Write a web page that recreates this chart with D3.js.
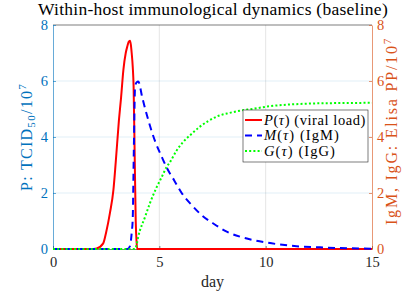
<!DOCTYPE html>
<html>
<head>
<meta charset="utf-8">
<script src="https://cdn.jsdelivr.net/npm/d3@7"></script>
<style>
  body { margin: 0; background: #fff; }
</style>
</head>
<body>
<div id="chart"></div>
<script>
const width = 412, height = 293;
const margin = {top: 25, right: 40, bottom: 44, left: 53};

const xTicks = [0, 5, 10, 15];
const yTicks = [0, 2, 4, 6, 8];

// P(tau), viral load (left axis)
const pDays = [0, 1.8, 2.05, 2.36, 2.5, 2.68, 2.84, 2.95, 3.1, 3.2, 3.31, 3.42, 3.5, 3.56, 3.62, 3.66, 3.70, 3.75, 3.79, 3.84, 3.89, 3.93, 3.96, 5, 10, 15];
const pVals = [0, 0, 0.02, 0.2, 0.6, 1.3, 2.1, 3.1, 4.6, 5.4, 6.4, 7.0, 7.25, 7.4, 7.44, 7.3, 7.0, 6.5, 5.8, 3.4, 1.0, 0.25, 0, 0, 0, 0];

// M(tau), IgM (right axis)
const mDays = [0, 3.5, 3.62, 3.70, 3.75, 3.80, 3.86, 3.93, 4.01, 4.2, 4.56, 4.8, 5.11, 5.35, 5.7, 6.05, 6.52, 6.99, 7.52, 8.17, 8.79, 9.4, 10.04, 11.45, 12.87, 15];
const mVals = [0, 0, 0.1, 0.57, 1.1, 3.5, 5.8, 5.95, 5.98, 5.4, 4.4, 3.85, 3.3, 2.9, 2.45, 2.0, 1.57, 1.21, 0.92, 0.62, 0.44, 0.32, 0.23, 0.1, 0.05, 0.01];

// G(tau), IgG (right axis)
const gDays = [0, 3.6, 3.86, 3.93, 4.01, 4.33, 4.56, 4.87, 5.1, 5.35, 5.5, 5.8, 6.13, 6.5, 6.91, 7.3, 7.7, 8.3, 8.95, 9.26, 10.2, 11.6, 13.18, 15];
const gVals = [0, 0, 0, 0.15, 0.44, 1.15, 1.64, 2.2, 2.55, 2.94, 3.1, 3.5, 3.83, 4.1, 4.37, 4.57, 4.73, 4.86, 4.96, 4.99, 5.1, 5.18, 5.21, 5.22];

const leftColor = "#0072BD";
const rightColor = "#D95319";
const serif = "'Liberation Serif', 'DejaVu Serif', serif";

const svg = d3.select("#chart").append("svg")
    .attr("width", width)
    .attr("height", height);

const x = d3.scaleLinear().domain([0, 15]).range([margin.left, width - margin.right]);
const yL = d3.scaleLinear().domain([0, 8]).range([height - margin.bottom, margin.top]);
const yR = d3.scaleLinear().domain([0, 8]).range([height - margin.bottom, margin.top]);

const x0 = x.range()[0], x1 = x.range()[1];
const y0 = yL.range()[0], y1 = yL.range()[1];

// stretch a text to the width measured on the reference
function fitWidth(sel, target) {
    const node = sel.node();
    const n = node.textContent.length;
    const len = node.getComputedTextLength();
    sel.attr("letter-spacing", (target - len) / n);
}

function addText(parent) {
    return parent.append("text").style("font-family", serif);
}

// grid
svg.append("g").selectAll("line")
    .data(xTicks.slice(1, -1))
    .join("line")
    .attr("x1", d => x(d)).attr("x2", d => x(d))
    .attr("y1", y0).attr("y2", y1)
    .attr("stroke", "#262626").attr("stroke-opacity", 0.12);
svg.append("g").selectAll("line")
    .data(yTicks.slice(1, -1))
    .join("line")
    .attr("x1", x0).attr("x2", x1)
    .attr("y1", d => yL(d)).attr("y2", d => yL(d))
    .attr("stroke", leftColor).attr("stroke-opacity", 0.12);

// axes
function styleAxis(g, color) {
    g.attr("font-family", null);
    g.select(".domain").attr("stroke", color).attr("stroke-width", 0.6);
    g.selectAll(".tick line").attr("stroke", color).attr("stroke-width", 0.6);
    g.selectAll(".tick text").attr("fill", color)
        .style("font-family", serif).style("font-size", "14.5px");
}

const gx = svg.append("g")
    .attr("transform", `translate(0,${y0})`)
    .call(d3.axisBottom(x).tickValues(xTicks).tickSize(-3).tickPadding(8).tickSizeOuter(0));
styleAxis(gx, "#262626");

svg.append("line")
    .attr("x1", x0).attr("x2", x1).attr("y1", y1).attr("y2", y1)
    .attr("stroke", "#262626").attr("stroke-width", 0.6);

const gl = svg.append("g")
    .attr("transform", `translate(${x0},0)`)
    .call(d3.axisLeft(yL).tickValues(yTicks).tickSize(-3).tickPadding(5).tickSizeOuter(0));
styleAxis(gl, leftColor);

const gr = svg.append("g")
    .attr("transform", `translate(${x1},0)`)
    .call(d3.axisRight(yR).tickValues(yTicks).tickSize(-3).tickPadding(5).tickSizeOuter(0));
styleAxis(gr, rightColor);

// curves
const pData = pDays.map((d, i) => [d, pVals[i]]);
const mData = mDays.map((d, i) => [d, mVals[i]]);
const gData = gDays.map((d, i) => [d, gVals[i]]);

const lineL = d3.line().x(d => x(d[0])).y(d => yL(d[1])).curve(d3.curveMonotoneX);
const lineR = d3.line().x(d => x(d[0])).y(d => yR(d[1])).curve(d3.curveMonotoneX);

svg.append("path").datum(pData)
    .attr("d", lineL)
    .attr("fill", "none").attr("stroke", "#ff0000").attr("stroke-width", 2);
svg.append("path").datum(mData)
    .attr("d", lineR)
    .attr("fill", "none").attr("stroke", "#0000ff").attr("stroke-width", 2)
    .attr("stroke-dasharray", "7,5");
svg.append("path").datum(gData)
    .attr("d", lineR)
    .attr("fill", "none").attr("stroke", "#00ff00").attr("stroke-width", 2)
    .attr("stroke-dasharray", "2,2.2");

// title and labels
const title = addText(svg)
    .attr("x", 213).attr("y", 14.5)
    .attr("text-anchor", "middle")
    .attr("font-size", 17.5).attr("fill", "#000")
    .text("Within-host immunological dynamics (baseline)");
fitWidth(title, 350);

addText(svg)
    .attr("x", (x0 + x1) / 2).attr("y", 287)
    .attr("text-anchor", "middle")
    .attr("font-size", 16).attr("fill", "#262626")
    .text("day");

const leftLabel = addText(svg)
    .attr("transform", `translate(32,${(y0 + y1) / 2}) rotate(-90)`)
    .attr("text-anchor", "middle")
    .attr("font-size", 16).attr("fill", leftColor);
leftLabel.append("tspan").text("P: TCID");
leftLabel.append("tspan").attr("font-size", 11).attr("dy", 3).text("50");
leftLabel.append("tspan").attr("dy", -3).text("/10");
leftLabel.append("tspan").attr("font-size", 11).attr("dy", -6).text("7");
fitWidth(leftLabel, 108);

const rightLabel = addText(svg)
    .attr("transform", `translate(397,${(y0 + y1) / 2 - 6}) rotate(-90)`)
    .attr("text-anchor", "middle")
    .attr("font-size", 16).attr("fill", rightColor);
rightLabel.append("tspan").text("IgM, IgG: Elisa PP/10");
rightLabel.append("tspan").attr("font-size", 11).attr("dy", -6).text("7");
fitWidth(rightLabel, 188);

// legend
const legendItems = [
    {sym: "P", name: " (viral load)", color: "#ff0000", dash: null},
    {sym: "M", name: " (IgM)", color: "#0000ff", dash: "7,5"},
    {sym: "G", name: " (IgG)", color: "#00ff00", dash: "2,2.2"}
];
const legendWidths = [102, 76, 72];
const legend = svg.append("g").attr("transform", "translate(243,110)");
legend.append("rect")
    .attr("width", 125).attr("height", 52)
    .attr("fill", "#fff").attr("stroke", "#262626").attr("stroke-width", 0.6);
const rows = legend.selectAll("g.row")
    .data(legendItems)
    .join("g")
    .attr("class", "row")
    .attr("transform", (d, i) => `translate(0,${10 + i * 15.5})`);
rows.append("line")
    .attr("x1", 2).attr("x2", 19)
    .attr("stroke", d => d.color).attr("stroke-width", 2)
    .attr("stroke-dasharray", d => d.dash);
const rowText = addText(rows)
    .attr("x", 21).attr("y", 4.5)
    .attr("font-size", 14.5).attr("fill", "#000");
rowText.append("tspan").attr("font-style", "italic").text(d => d.sym);
rowText.append("tspan").text("(");
rowText.append("tspan").attr("font-style", "italic").text("τ");
rowText.append("tspan").text(")");
rowText.append("tspan").text(d => d.name);
rowText.each(function (d, i) { fitWidth(d3.select(this), legendWidths[i]); });
</script>
</body>
</html>
